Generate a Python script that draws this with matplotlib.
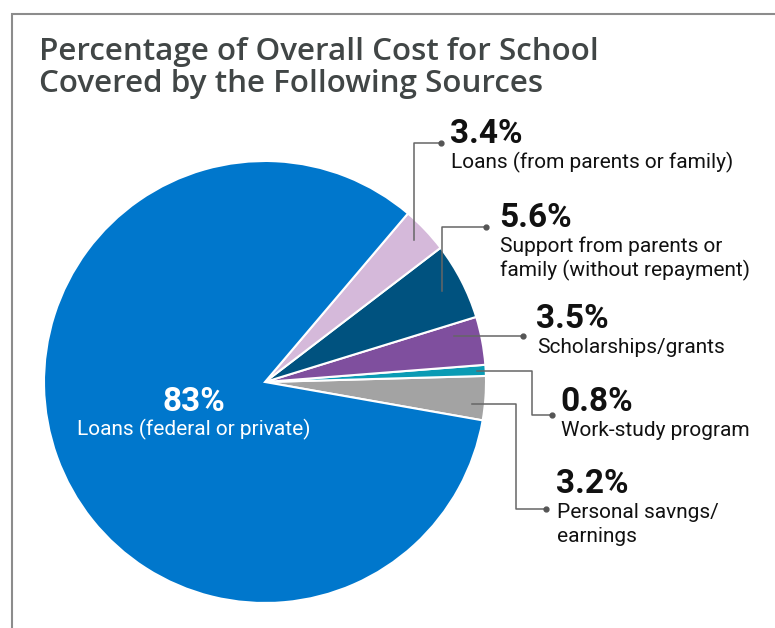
import numpy as np
import matplotlib.pyplot as plt

W, H = 775, 628

# share of overall school cost by funding source
shares = [3.2, 0.8, 3.5, 5.6, 3.4, 83]
names = [
    ["Personal savngs/", "earnings"],
    ["Work-study program"],
    ["Scholarships/grants"],
    ["Support from parents or", "family (without repayment)"],
    ["Loans (from parents or family)"],
    ["Loans (federal or private)"],
]
colors = ["#a3a3a3", "#0a9bb4", "#7f4f9e", "#00527f", "#d5b9da", "#0077cc"]

title_lines = ["Percentage of Overall Cost for School",
               "Covered by the Following Sources"]

# callout layout: text x, percent baseline y, dot (x, y), route,
# radius factor, angle offset, elbow x
callouts = {
    4: dict(tx=450, ty=143, dot=(441, 143), route="v", rf=0.93, da=0),
    3: dict(tx=499, ty=227, dot=(486, 227), route="v", rf=0.90, da=0),
    2: dict(tx=536, ty=328, dot=(523, 336), route="h", rf=0.88, da=3),
    1: dict(tx=560, ty=411, dot=(552, 415), route="z", rf=0.96, da=0, ex=532),
    0: dict(tx=556, ty=493, dot=(546, 509), route="z", rf=0.94, da=-2, ex=516),
}

cx, cy, R = 265, 382, 221


def Y(y):
    # pixel rows from the top -> data y
    return H - y


plt.rcParams["font.family"] = ["Roboto", "DejaVu Sans"]
fig = plt.figure(figsize=(W / 100, H / 100), dpi=100)
ax = fig.add_axes([0, 0, 1, 1])

wedges, _ = ax.pie(shares, colors=colors, startangle=-10, counterclock=True,
                   center=(cx, Y(cy)), radius=R,
                   wedgeprops=dict(edgecolor="white", linewidth=1.5))
ax.set_xlim(0, W)
ax.set_ylim(0, H)
ax.set_aspect("equal")
ax.axis("off")

# frame lines
ax.plot([11.5, 11.5, W], [0, Y(13.5), Y(13.5)], color="#8c8c8c", lw=1.5,
        solid_joinstyle="miter", clip_on=False)

for k, line in enumerate(title_lines):
    ax.text(39, Y(60 + 32 * k), line, fontsize=22.6, color="#414646",
            family="Open Sans", fontweight="semibold", va="baseline")

for i, c in callouts.items():
    w = wedges[i]
    mid = np.deg2rad((w.theta1 + w.theta2) / 2 + c["da"])
    sx = cx + c["rf"] * R * np.cos(mid)
    sy = cy - c["rf"] * R * np.sin(mid)
    dx, dy = c["dot"]
    if c["route"] == "v":
        xs, ys = [sx, sx, dx], [sy, dy, dy]
    elif c["route"] == "h":
        xs, ys = [sx, dx], [sy, sy]
        dy = sy
    else:
        xs, ys = [sx, c["ex"], c["ex"], dx], [sy, sy, dy, dy]
    ax.plot(xs, [Y(v) for v in ys], color="#666666", lw=1.1)
    ax.plot(dx, Y(dy), "o", color="#555555", ms=3.5)
    ax.text(c["tx"], Y(c["ty"]), f"{shares[i]:g}%", fontsize=24,
            fontweight="bold", color="#111111", va="baseline")
    for k, line in enumerate(names[i]):
        ax.text(c["tx"] + 1, Y(c["ty"] + 25 + 24 * k), line, fontsize=15,
                color="#111111", va="baseline")

ax.text(194, Y(411), f"{shares[5]:g}%", fontsize=24, fontweight="bold",
        color="white", ha="center", va="baseline")
ax.text(194, Y(435), names[5][0], fontsize=15, color="white",
        ha="center", va="baseline")

fig.savefig("out.png", dpi=100)
